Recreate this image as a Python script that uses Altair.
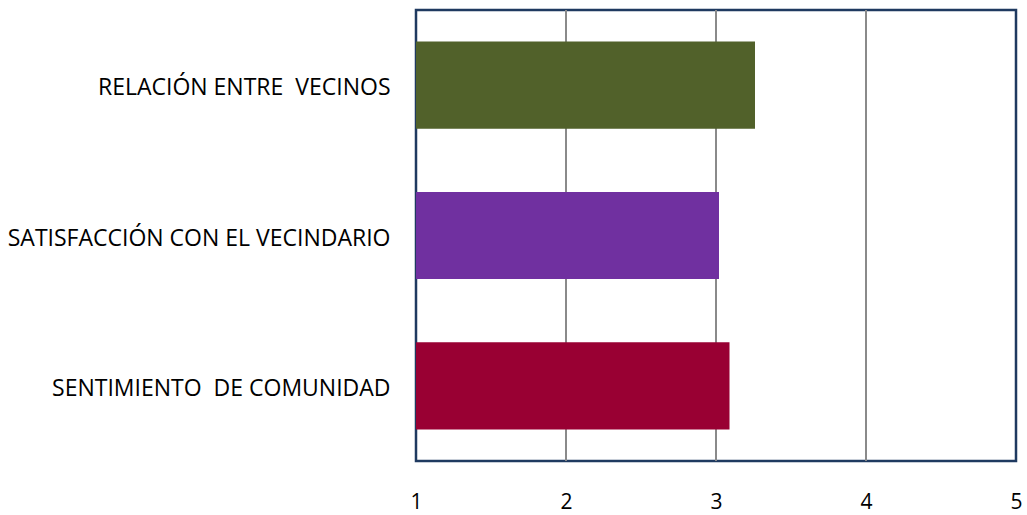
import altair as alt
import pandas as pd

categories = ["RELACIÓN ENTRE\u00a0 VECINOS", "SATISFACCIÓN CON EL VECINDARIO\u00a0", "SENTIMIENTO\u00a0 DE COMUNIDAD"]
values = [3.26, 3.02, 3.09]
colors = ["#51612A", "#7030A0", "#990033"]
x_ticks = [1, 2, 3, 4, 5]
grid_x = [2, 3, 4]

df = pd.DataFrame({"cat": categories, "value": values, "base": [1] * len(values), "color": colors})
gdf = pd.DataFrame({"g": grid_x})

xscale = alt.Scale(domain=[1, 5], zero=False, nice=False)

grid = alt.Chart(gdf).mark_rule(color="#8A8A8A", strokeWidth=2).encode(
    x=alt.X("g:Q", scale=xscale, title=None)
)

bars = alt.Chart(df).mark_bar().encode(
    y=alt.Y("cat:N", sort=categories, title=None,
            scale=alt.Scale(paddingInner=0.42, paddingOuter=0.21),
            axis=alt.Axis(ticks=False, domain=False, labelPadding=26, labelFontSize=23,
                          labelOffset=3,
                          labelFont="Open Sans", labelColor="#000000", labelLimit=500)),
    x=alt.X("base:Q", title=None, scale=xscale,
            axis=alt.Axis(values=x_ticks, format="d", ticks=False, domain=False, grid=False,
                          labelPadding=30, labelFontSize=21, labelFlush=False,
                          labelFont="Open Sans", labelColor="#000000")),
    x2="value:Q",
    color=alt.Color("color:N", scale=None, legend=None),
)

chart = alt.layer(grid, bars).properties(
    width=600, height=451,
    padding={"left": 416, "top": 10, "right": 11, "bottom": 54},
    autosize=alt.AutoSizeParams(type="none"),
    background="white",
).configure_view(
    stroke="#1F3A60", strokeWidth=2.5
)

chart.save("out.html", embed_options={"renderer": "svg", "actions": False})
